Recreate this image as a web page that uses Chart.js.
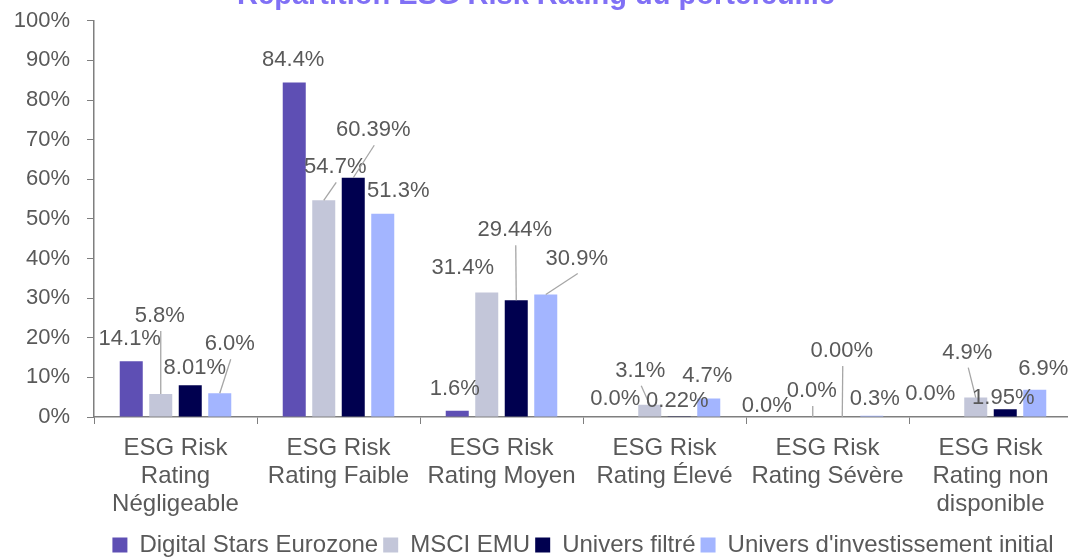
<!DOCTYPE html>
<html>
<head>
<meta charset="utf-8">
<script src="https://cdn.jsdelivr.net/npm/chart.js@4.4.1/dist/chart.umd.min.js"></script>
<style>
  html, body { margin: 0; padding: 0; background: #fff; overflow: hidden; }
  #wrap { position: absolute; left: 0; top: -21px; }
</style>
</head>
<body>
<div id="wrap"><canvas id="myChart" width="1090" height="588"></canvas></div>
<script>
// categories
var categories = [
  ["ESG Risk", "Rating", "Négligeable"],
  ["ESG Risk", "Rating Faible"],
  ["ESG Risk", "Rating Moyen"],
  ["ESG Risk", "Rating Élevé"],
  ["ESG Risk", "Rating Sévère"],
  ["ESG Risk", "Rating non", "disponible"]
];

// series values (%)
var digitalStars = [14.1, 84.4, 1.6, 0.0, 0.0, 0.0];
var msciEmu = [5.8, 54.7, 31.4, 3.1, 0.0, 4.9];
var universFiltre = [8.01, 60.39, 29.44, 0.22, 0.00, 1.95];
var universInitial = [6.0, 51.3, 30.9, 4.7, 0.3, 6.9];

var seriesNames = ["Digital Stars Eurozone", "MSCI EMU", "Univers filtré", "Univers d'investissement initial"];
var decimals = [1, 1, 2, 1];

// y ticks
var yMin = 0, yMax = 100, yStep = 10;

// where each value label sits relative to its bar top: [dx, dy, leader line]
var labelOffsets = [
  [[-1.5, -22], [-1, -23], [-2.5, -22], [-5, -18], [-16.5, -11], [-16, -23]],
  [[-1, -78, 1], [11.5, -33, 1], [-24, -25], [-9.5, -34, 1], [-1, -26, 1], [-8.5, -45, 1]],
  [[4.5, -17], [20, -47.5, 1], [-1.5, -70, 1], [-2, -15], [-0.5, -66, 1], [-2, -11]],
  [[10, -49, 1], [15.5, -23], [31, -36, 1], [-1.5, -22], [3, -17], [8.5, -21]]
];

var FONT = '"Liberation Sans", Arial, sans-serif';

var barLabels = {
  id: 'barLabels',
  afterDatasetsDraw: function(chart) {
    var ctx = chart.ctx;
    ctx.save();
    ctx.font = '22px ' + FONT;
    ctx.textAlign = 'center';
    ctx.textBaseline = 'middle';
    chart.data.datasets.forEach(function(ds, di) {
      var meta = chart.getDatasetMeta(di);
      meta.data.forEach(function(bar, i) {
        var off = labelOffsets[di][i];
        var x = bar.x + off[0];
        var y = bar.y + off[1];
        if (off[2]) {
          ctx.strokeStyle = '#a6a6a6';
          ctx.lineWidth = 1.3;
          ctx.beginPath();
          ctx.moveTo(x + 1, y + 15);
          ctx.lineTo(bar.x, bar.y);
          ctx.stroke();
        }
        ctx.fillStyle = '#595959';
        ctx.fillText(ds.data[i].toFixed(decimals[di]) + '%', x, y);
      });
    });
    ctx.restore();
  }
};

var ctx = document.getElementById('myChart').getContext('2d');

var chart = new Chart(ctx, {
  type: 'bar',
  data: {
    labels: categories,
    datasets: [
      { label: seriesNames[0], data: digitalStars, backgroundColor: '#5e4fb4' },
      { label: seriesNames[1], data: msciEmu, backgroundColor: '#c3c6d9' },
      { label: seriesNames[2], data: universFiltre, backgroundColor: '#00004f' },
      { label: seriesNames[3], data: universInitial, backgroundColor: '#a3b5ff' }
    ]
  },
  options: {
    responsive: false,
    animation: false,
    devicePixelRatio: 1,
    categoryPercentage: 0.724,
    barPercentage: 0.78,
    layout: { padding: { left: 0, right: 18, top: 0, bottom: 0 } },
    plugins: {
      title: {
        display: true,
        text: 'Répartition ESG Risk Rating du portefeuille',
        color: '#8070f5',
        font: { family: FONT, size: 29, weight: 'bold' },
        padding: { top: 0, bottom: 7 }
      },
      legend: {
        position: 'bottom',
        fullSize: false,
        labels: {
          boxWidth: 15,
          boxHeight: 15,
          padding: 5,
          color: '#595959',
          font: { family: FONT, size: 24 }
        }
      },
      tooltip: { enabled: false }
    },
    scales: {
      x: {
        grid: { display: true, drawOnChartArea: false, drawTicks: true, tickLength: 7, color: '#7f7f7f', offset: true },
        border: { display: true, color: '#7f7f7f', width: 1.5 },
        ticks: {
          color: '#595959',
          font: { family: FONT, size: 24, lineHeight: 1.17 },
          padding: 10,
          maxRotation: 0,
          autoSkip: false
        },
        afterFit: function(scale) { scale.height = 111; }
      },
      y: {
        min: yMin,
        max: yMax,
        grid: { display: true, drawOnChartArea: false, drawTicks: true, tickLength: 7, color: '#7f7f7f' },
        border: { display: true, color: '#7f7f7f', width: 1.5 },
        ticks: {
          stepSize: yStep,
          color: '#595959',
          font: { family: FONT, size: 22 },
          padding: 17,
          callback: function(v) { return v + '%'; }
        },
        afterFit: function(scale) { scale.width = 94; }
      }
    }
  },
  plugins: [barLabels]
});
</script>
</body>
</html>
